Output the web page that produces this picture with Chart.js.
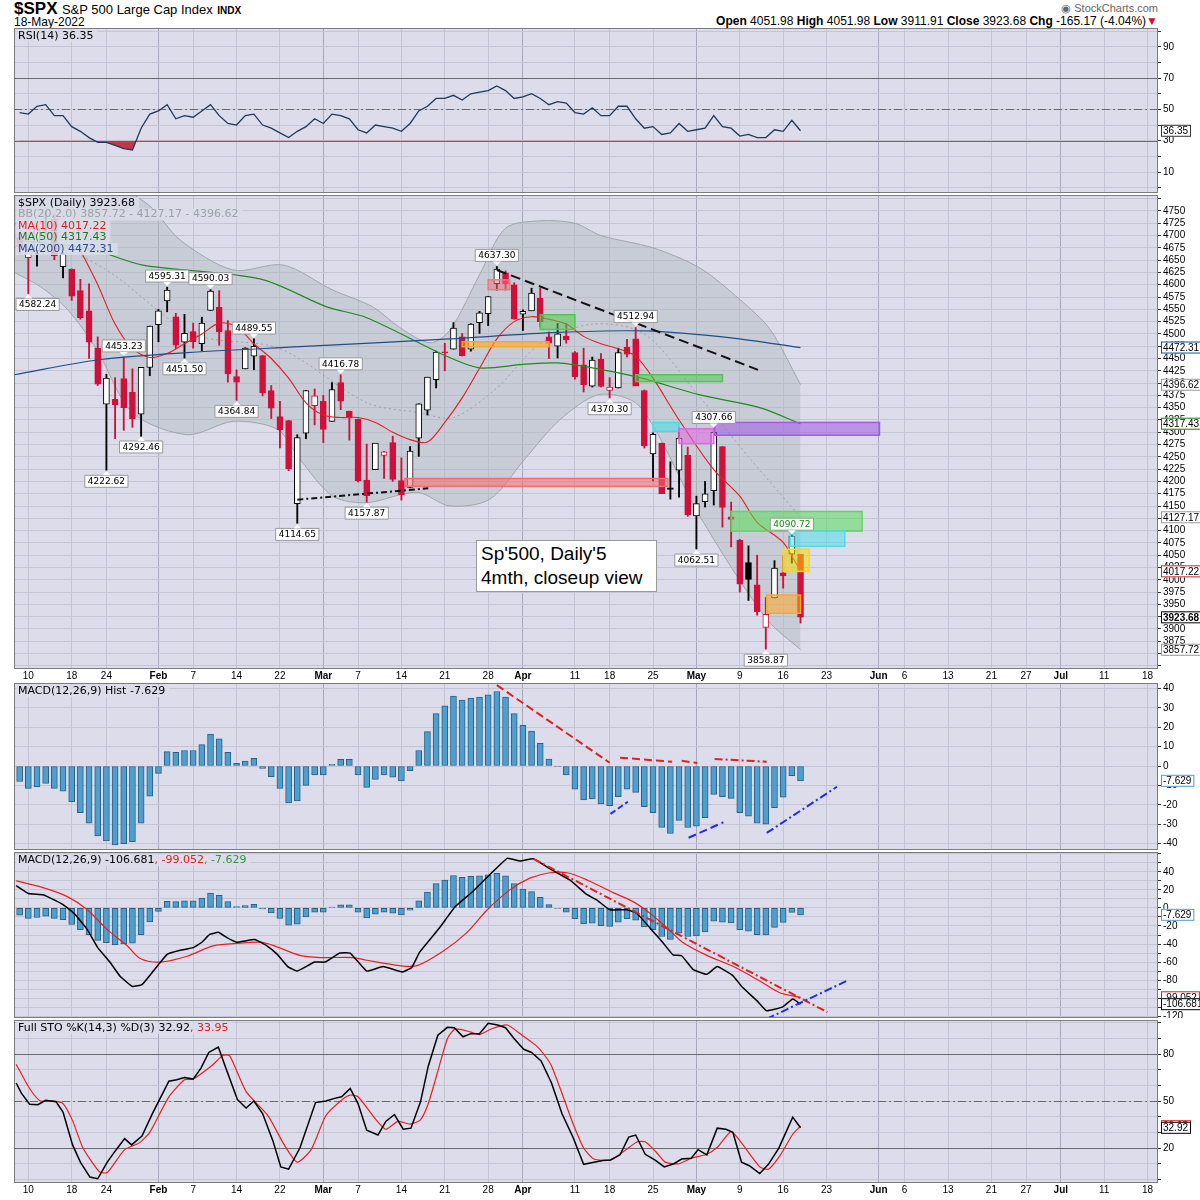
<!DOCTYPE html>
<html>
<head>
<meta charset="utf-8">
<script src="https://cdn.jsdelivr.net/npm/chart.js@4"></script>
<style>
  body { margin: 0; background: #fff; font-family: "Liberation Sans", Arial, sans-serif; }
  #wrap { position: relative; width: 1200px; height: 1200px; overflow: hidden; }
  canvas { position: absolute; left: 14px; }
  .hdr { position: absolute; white-space: nowrap; color: #000; }
  #note { position: absolute; left: 476px; top: 540px; width: 175px; height: 49px; background: #fff;
          border: 1px solid #999; font-size: 19px; line-height: 24px; padding: 1px 0 0 4px; box-sizing: content-box; }
</style>
</head>
<body>
<div id="wrap">
  <div class="hdr" style="left:14px;top:-1px;"><b style="font-size:17px;">$SPX</b> <span style="font-size:13px;">S&amp;P 500 Large Cap Index</span> <b style="font-size:10px;">INDX</b></div>
  <div class="hdr" style="left:14px;top:15px;font-size:12px;">18-May-2022</div>
  <div class="hdr" style="right:42px;top:2px;font-size:11px;color:#666;">&#9673; StockCharts.com</div>
  <div class="hdr" style="right:42px;top:14px;font-size:12px;"><b>Open</b> 4051.98 <b>High</b> 4051.98 <b>Low</b> 3911.91 <b>Close</b> 3923.68 <b>Chg</b> -165.17 (-4.04%)<span style="color:#d0103a;">&#9660;</span></div>
  <canvas id="rsi" width="1186" height="165" style="top:28px"></canvas>
  <canvas id="price" width="1186" height="488" style="top:195px"></canvas>
  <canvas id="hist" width="1186" height="167" style="top:683px"></canvas>
  <canvas id="macd" width="1186" height="166" style="top:852px"></canvas>
  <canvas id="sto" width="1186" height="177" style="top:1020px"></canvas>
  <div id="note">Sp'500, Daily'5<br>4mth, closeup view</div>
</div>
<script>
// ---- daily OHLC, 7-Jan-2022 .. 18-May-2022 ----
const opens = [4697,4655,4669,4728,4733,4637,4632,4588,4547,4471,4357,4367,4409,4381,4337,4432,4519,4567,4535,4483,
  4505,4480,4548,4554,4507,4413,4429,4455,4456,4385,4332,4324,4155,4298,4354,4363,4322,4401,4343,4327,
  4203,4224,4253,4279,4202,4188,4288,4345,4407,4462,4469,4494,4469,4523,4541,4602,4624,4600,4540,4547,
  4573,4494,4475,4495,4462,4437,4394,4449,4385,4390,4473,4490,4385,4256,4278,4187,4223,4253,4130,4159,
  4181,4271,4128,4081,4035,3990,3903,3963,4014,4052,4052];
const highs = [4707,4673,4714,4749,4744,4666,4632,4611,4602,4494,4418,4411,4453,4429,4432,4516,4550,4595,4542,4540,
  4522,4534,4590,4588,4527,4427,4472,4490,4456,4395,4363,4324,4295,4385,4388,4375,4401,4417,4343,4327,
  4276,4277,4261,4292,4248,4271,4358,4412,4465,4481,4523,4501,4521,4546,4576,4637,4628,4604,4549,4593,
  4593,4504,4521,4521,4464,4471,4453,4460,4411,4471,4489,4513,4386,4299,4278,4240,4309,4270,4170,4200,
  4308,4271,4158,4082,4069,4050,3964,4039,4049,4091,4052];
const lows = [4663,4582,4638,4703,4651,4614,4568,4530,4450,4395,4223,4287,4304,4310,4292,4415,4484,4545,4470,4451,
  4471,4466,4548,4477,4402,4365,4429,4427,4374,4328,4268,4222,4115,4287,4315,4279,4322,4346,4284,4199,
  4158,4224,4206,4200,4162,4187,4251,4335,4390,4425,4469,4455,4465,4501,4517,4589,4589,4530,4507,4547,
  4514,4450,4451,4481,4408,4382,4392,4392,4370,4390,4453,4395,4268,4201,4175,4164,4168,4129,4063,4148,
  4152,4107,4067,3975,3958,3928,3859,3963,3983,4034,3912];
const closes = [4677,4670,4713,4726,4659,4663,4577,4533,4483,4398,4410,4356,4350,4327,4432,4516,4547,4589,4477,4501,
  4484,4522,4587,4504,4419,4402,4471,4475,4380,4349,4305,4226,4289,4385,4374,4306,4387,4363,4329,4201,
  4171,4278,4260,4204,4173,4262,4358,4412,4463,4461,4512,4456,4520,4543,4576,4632,4602,4530,4546,4583,
  4525,4481,4500,4488,4413,4397,4447,4393,4392,4462,4459,4394,4272,4296,4175,4184,4288,4132,4155,4175,
  4300,4147,4123,3991,4001,3935,3930,4024,4008,4089,3924];
const prevClose0 = 4696;

// ---- overlays: [dayIndex, value] ----
const ma10 = [[7,4670],[9,4600],[11,4520],[13,4470],[15,4452],[17,4460],[19,4480],[21,4500],[23,4522],[25,4515],[27,4480],
  [29,4450],[31,4410],[33,4360],[35,4335],[37,4330],[39,4330],[41,4320],[43,4300],[45,4285],[47,4280],[49,4320],[51,4370],
  [53,4430],[55,4490],[57,4525],[59,4535],[61,4530],[63,4520],[65,4495],[67,4480],[69,4470],[71,4455],[73,4410],[76,4325],
  [80,4224],[83,4170],[85,4117],[88,4076],[90,4017]];
const ma50 = [[0,4690],[8.1,4673],[14.2,4640],[27.7,4612],[35.4,4555],[40,4533],[49.3,4454],[53,4431],[58,4438],[62,4441],
  [66.9,4428],[71.5,4411],[78.4,4376],[85.3,4350],[90,4317]];
const ma200 = [[-0.6,4417],[9.3,4448],[19.3,4462],[32.3,4474],[49.6,4490],[62,4503],[72,4506],[82,4492],[90,4472]];
const bbUpper = [[-0.6,4830],[10,4810],[15,4760],[18.5,4691],[24.6,4630],[30.4,4640],[36,4590],[40.7,4555],[43.8,4513],
  [47.3,4482],[49.6,4508],[53,4620],[56,4715],[60,4730],[64,4725],[67,4700],[73,4675],[78.4,4634],[83,4570],[86.5,4509],[90,4397]];
const bbLower = [[-0.6,4625],[2.4,4596],[5.5,4550],[8.9,4468],[13,4340],[19.3,4295],[24.6,4322],[29.7,4306],[32.3,4245],
  [36.1,4170],[40,4157],[45.8,4178],[49.6,4150],[54.2,4164],[58.2,4245],[62.3,4326],[66.9,4377],[71.5,4352],[78.4,4129],[86.1,3920],[90,3858]];
const bbMid = [[-0.6,4725],[10,4630],[20,4500],[30,4470],[40,4360],[46,4340],[50,4330],[55,4390],[60,4480],[66,4520],
  [72,4500],[78,4380],[84,4250],[90,4127]];

const rsi = [48,47,52,53,46,46,39,36,32,29,29,27,25,24,38,47,49,53,44,46,45,49,53,46,41,40,46,47,40,38,35,32,36,39,44,41,
  47,46,44,37,35,40,39,38,36,41,49,52,57,57,59,56,60,61,62,65,62,57,58,60,57,53,55,54,48,47,51,46,46,52,52,44,38,39,34,
  35,41,36,37,38,46,39,38,33,34,32,32,37,36,43,36.35];
const macdHist = [-8,-11.5,-10.6,-9,-11.5,-13,-18.4,-24,-29.5,-36,-38.6,-40.7,-40,-39,-29.5,-15.5,-3.8,7.4,7,8,8,11,16.5,
  14,7,1.4,2.6,4,-1.2,-5.5,-11.5,-19,-18,-10,-4.6,-4.6,0.9,3.4,3.4,-4.6,-11,-6.9,-4.6,-5.8,-7.7,-2.4,8,17.7,27,31,36,34,
  35,35.5,36.7,38.4,35.5,27,21,18,11.7,3.6,-0.3,-4.6,-12,-17.5,-17,-19.6,-20.5,-15.8,-12,-13.6,-21,-24,-31.7,-34.8,-28,
  -31.7,-31,-26.6,-14.6,-15.8,-16.7,-24,-25.8,-29.5,-30,-21.5,-16,-5,-7.63];
const macdLine = [[-0.4,24.6],[1,16],[2.7,14.7],[4.1,8.4],[5,3.6],[6.4,-7.4],[7.8,-24],[9,-44],[10.4,-60],[11.6,-76],[13,-87],
  [14.1,-85],[15.4,-70],[17,-51.5],[18.5,-47],[20,-44],[21,-38],[21.9,-29.4],[22.9,-27],[23.9,-33],[25,-38],[27.1,-35],
  [28.5,-42],[29.7,-51.5],[30.9,-65],[32,-70],[34,-60],[35.2,-60],[36.9,-50],[38.1,-50],[40,-70],[41.9,-65],[44.1,-71],
  [45.2,-66],[46.1,-49],[48.4,-22],[50.2,1.5],[52.2,18],[54.2,37],[56.2,55],[57.7,52],[59.2,54.5],[61.1,43.5],[63.4,31],
  [65.4,14.7],[66.5,9],[68,-2],[70,-2],[71.1,-5.6],[73,-26],[74.1,-38],[75.3,-52],[76.3,-53],[77.6,-68],[79.2,-73.6],
  [80.4,-65],[82.2,-75],[83.3,-88],[85,-103],[86.1,-114],[87.9,-110],[89.1,-101],[90,-106.68]];
const macdSignal = [[-0.4,30],[2.7,22.5],[5.5,12.5],[7.8,-2],[10.1,-24],[12.4,-42],[13.9,-56],[16.2,-60],[19.3,-53.6],
  [22.3,-42],[25.4,-39],[27.7,-38],[29.2,-41.5],[32.3,-52.6],[34.6,-55],[38.4,-55],[40,-58],[43.8,-64],[45.8,-64],[48.8,-48],
  [51.5,-27.6],[53.9,-2],[56.5,20],[58.8,33],[61.1,39],[63.1,39],[65.4,31],[68.4,17],[70.7,7],[72.6,-5.6],[74.6,-22],
  [76.4,-38],[79.2,-52.6],[82.2,-64.7],[85.3,-81],[87.6,-94],[90,-99.05]];
const stoK = [[-0.4,61.5],[0.2,55],[1.15,48],[2.1,47.7],[3,50.5],[4.2,49.5],[5,43],[6.1,22],[7,11],[8.1,1.5],[9,0.4],[10.1,11],
  [11,18],[12.1,26],[12.9,22],[14.1,27.7],[15.3,42],[17.2,62.6],[18.1,63.6],[19,65],[20,64],[20.9,71],[21.8,81],[22.9,84.4],
  [23.7,72],[25.1,51],[26.1,45.5],[27,50],[28,42],[29.2,24.4],[30.1,8],[31,6.5],[32.3,20],[34.1,49],[35.3,50],[36.3,51.7],
  [37.1,52.7],[38.1,58],[39,48.4],[40,31.4],[41.3,28.3],[42.2,37],[43.2,41.4],[44.2,32],[45.1,32.7],[46.2,49.5],[47.1,72.4],
  [48.2,92],[49.3,97],[50.1,96.8],[51.1,91],[52,93],[53,92.9],[54,99.6],[55.1,98.5],[56,96.8],[57,89.8],[58.1,83],[59,81],
  [60.1,75.6],[61.3,61.5],[62.5,42],[63.8,26.6],[65,9.6],[66.2,11],[67.2,12],[68.1,12.4],[69.2,15.7],[70.2,27],[71,28.3],
  [72.1,16],[73.2,12.4],[74.3,8],[75.4,10],[76.3,13],[77.4,13.5],[78.2,19],[79.2,15.7],[80.4,32.7],[81.4,32],[82.2,30],
  [83.2,11],[84.1,8.7],[85.3,3.7],[86.3,9.6],[87.5,20],[89.1,39.7],[90,32.92]];
const stoD = [[-0.4,73.5],[1.15,58],[2.4,50],[4,50],[5,48.4],[6.1,37.5],[7.3,20],[9.2,4.8],[10.1,4.4],[12.1,19],[13.8,23.3],
  [15,30],[17.2,52.7],[19,63.6],[20,64],[22.2,72.8],[23.4,79],[24.2,79],[26.1,56],[28.6,40.8],[30.5,22],[32,11],[33.6,19],
  [35.3,40.8],[37.2,51],[38.1,53.8],[39,52.7],[41,38.6],[42.2,32],[43.6,37],[45,35.3],[46.2,38],[47.1,48.4],[48.2,69],
  [49.3,89.8],[50.2,96],[52,94],[53,92.4],[54.5,96.3],[56.2,98.5],[57.9,92],[59.5,85.5],[60.4,80],[61.3,72.4],[62.5,55],
  [63.8,35.3],[65,20],[66.2,13],[68.1,12.4],[69.6,17.8],[71.2,24],[72.1,24],[73.3,17.8],[74.4,11],[76,10],[77.4,13.5],
  [79.2,16],[80.5,21],[82,30.5],[83.2,23.3],[85.3,8],[86.3,6.5],[87.7,15.7],[89.1,28.8],[90,33.95]];

// ---- drawn notes on the chart ----
const priceBoxes = [ // [i0, i1, lo, hi, colour]
  [44.4,74.7,4190,4206,'240,110,110'], [51,61,4474,4484,'255,165,40'], [54,56.5,4590,4610,'240,120,130'],
  [60,64,4509,4539,'80,200,80'], [71,81,4403,4417,'80,200,80'], [73,76,4302,4320,'70,220,230'],
  [76,80,4277,4307,'230,100,230'], [80.1,99.1,4294,4320,'160,90,230'], [82,97.1,4099,4139,'90,220,90'],
  [88.8,95.1,4068,4099,'80,220,235'], [88,91,4017,4062,'250,220,0'], [86.1,90,3932,3969,'255,165,40']];
const priceTags = [ // [index, value, text, above]
  [1,4582.24,'4582.24',false],[10,4222.62,'4222.62',false],[14,4292.46,'4292.46',false],[12,4453.23,'4453.23',true],
  [17,4595.31,'4595.31',true],[22,4590.03,'4590.03',true],[19,4451.5,'4451.50',false],[27,4489.55,'4489.55',true],
  [25,4364.84,'4364.84',false],[32,4114.65,'4114.65',false],[40,4157.87,'4157.87',false],[37,4416.78,'4416.78',true],
  [55,4637.3,'4637.30',true],[71,4512.94,'4512.94',true],[68,4370.3,'4370.30',false],[80,4307.66,'4307.66',true],
  [78,4062.51,'4062.51',false],[89,4090.72,'4090.72',true],[86,3858.87,'3858.87',false]];

// ---- trading days & ticks ----
const holidays = ['2022-01-17','2022-02-21','2022-04-15','2022-05-30','2022-06-20','2022-07-04'];
const monthNames = ['Jan','Feb','Mar','Apr','May','Jun','Jul','Aug'];
const days = [];
for (let d = new Date(Date.UTC(2022,0,7)); days.length < 133; d.setUTCDate(d.getUTCDate()+1)) {
  const wd = d.getUTCDay(), iso = d.toISOString().slice(0,10);
  if (wd === 0 || wd === 6 || holidays.includes(iso)) continue;
  days.push(new Date(d));
}
const tickText = {}, monthTick = {};
days.forEach((d, i) => {
  if (i > 0 && d.getUTCMonth() !== days[i-1].getUTCMonth()) { tickText[i] = monthNames[d.getUTCMonth()]; monthTick[i] = true; }
});
days.forEach((d, i) => {
  if (i === 0 || tickText[i]) return;
  if (d.getUTCDay() <= days[i-1].getUTCDay()) {
    const near = Object.keys(monthTick).some(m => Math.abs(m - i) <= 2);
    if (!near) tickText[i] = String(d.getUTCDate());
  }
});
const tickIdx = Object.keys(tickText).map(Number).sort((a,b) => a-b);

const BG = '#dcdcea';
const pts = arr => arr.map(([x, y]) => ({x, y}));
const noPad = s => { s.paddingLeft = 0; s.paddingRight = 0; s.paddingTop = 0; s.paddingBottom = 0; };

function xAxis(show) {
  return {
    type: 'linear', min: -0.65, max: 131.2, offset: false,
    afterBuildTicks: s => { s.ticks = tickIdx.map(v => ({value: v})); },
    afterFit: s => { s.height = show ? 14 : 0; noPad(s); },
    ticks: { display: show, autoSkip: false, maxRotation: 0, padding: 1, color: '#000',
             callback: v => tickText[v] || '',
             font: c => ({family: 'Liberation Sans', size: 10, weight: monthTick[c.tick && c.tick.value] ? 'bold' : 'normal'}) },
    grid: { offset: false, drawTicks: false, color: c => monthTick[c.tick && c.tick.value] ? '#a8a8bc' : '#c4c4d4' },
    border: { display: false }
  };
}
function yAxis(min, max, values, step) {
  return {
    type: 'linear', position: 'right', min, max,
    afterBuildTicks: s => {
      const t = [];
      for (let v = Math.ceil(min / step) * step; v <= max; v += step) t.push({value: +v.toFixed(4)});
      s.ticks = t;
    },
    afterFit: s => { s.width = 42; noPad(s); },
    ticks: { color: '#000', padding: 2, autoSkip: false, font: {family: 'Liberation Sans', size: 10},
             callback: v => values.includes(v) ? String(v) : '' },
    grid: { color: '#c4c4d4', tickLength: 3, tickColor: '#333' },
    border: { display: false }
  };
}

function deco(spec) {
  return {
    id: 'deco',
    beforeDraw(chart) {
      const {ctx, chartArea: a} = chart;
      ctx.save(); ctx.fillStyle = BG; ctx.fillRect(a.left, a.top, a.right - a.left, a.bottom - a.top); ctx.restore();
    },
    beforeDatasetsDraw(chart) {
      const {ctx, chartArea: a, scales: {y}} = chart;
      ctx.save();
      (spec.refs || []).forEach(([v, dash]) => {
        ctx.strokeStyle = '#6a6a6a'; ctx.lineWidth = 1.2; ctx.setLineDash(dash ? [8,3,2,3] : []);
        const py = Math.round(y.getPixelForValue(v)) + 0.5;
        ctx.beginPath(); ctx.moveTo(a.left, py); ctx.lineTo(a.right, py); ctx.stroke();
      });
      ctx.restore();
    },
    afterDatasetsDraw(chart) {
      const {ctx, chartArea: a, scales: {x, y}} = chart;
      ctx.save();
      ctx.beginPath(); ctx.rect(a.left, a.top, a.right - a.left, a.bottom - a.top); ctx.clip();
      (spec.boxes || []).forEach(([i0, i1, lo, hi, c]) => {
        const x0 = x.getPixelForValue(i0), x1 = x.getPixelForValue(i1), y0 = y.getPixelForValue(hi), y1 = y.getPixelForValue(lo);
        ctx.fillStyle = `rgba(${c},0.55)`; ctx.fillRect(x0, y0, x1 - x0, y1 - y0);
        ctx.strokeStyle = `rgb(${c})`; ctx.lineWidth = 1.5; ctx.strokeRect(x0, y0, x1 - x0, y1 - y0);
      });
      (spec.lines || []).forEach(([i0, v0, i1, v1, col, dash, w]) => {
        ctx.strokeStyle = col; ctx.lineWidth = w || 2; ctx.setLineDash(dash);
        ctx.beginPath(); ctx.moveTo(x.getPixelForValue(i0), y.getPixelForValue(v0));
        ctx.lineTo(x.getPixelForValue(i1), y.getPixelForValue(v1)); ctx.stroke();
      });
      ctx.setLineDash([]);
      ctx.font = '9px "DejaVu Sans"'; ctx.textBaseline = 'middle'; ctx.textAlign = 'center';
      (spec.tags || []).forEach(([i, v, t, above]) => {
        const px = x.getPixelForValue(i), py = y.getPixelForValue(v);
        const w = ctx.measureText(t).width + 6, h = 12;
        const bx = Math.max(a.left + 2, px - w / 2);
        const by = above ? py - 5 - h : py + 5;
        ctx.fillStyle = 'rgba(255,255,255,0.92)'; ctx.strokeStyle = '#9a9a9a'; ctx.lineWidth = 1;
        ctx.beginPath(); ctx.rect(bx, by, w, h); ctx.fill(); ctx.stroke();
        ctx.beginPath();
        if (above) { ctx.moveTo(px - 4, by + h); ctx.lineTo(px, py - 1); ctx.lineTo(px + 4, by + h); }
        else { ctx.moveTo(px - 4, by); ctx.lineTo(px, py + 1); ctx.lineTo(px + 4, by); }
        ctx.fill();
        ctx.fillStyle = i === 89 ? '#1a8a1a' : '#000'; ctx.fillText(t, bx + w / 2, by + h / 2 + 0.5);
      });
      ctx.restore();
    },
    afterDraw(chart) {
      const {ctx, chartArea: a, scales: {y}} = chart;
      ctx.save();
      ctx.strokeStyle = '#7c7c7c'; ctx.lineWidth = 1;
      ctx.strokeRect(a.left + 0.5, a.top + 0.5, a.right - a.left - 1, a.bottom - a.top - 1);
      ctx.font = '11px "DejaVu Sans"'; ctx.textBaseline = 'middle'; ctx.textAlign = 'left';
      (spec.legend || []).forEach((parts, n) => {
        let px = a.left + 4; const py = a.top + 8 + n * 11.5;
        const total = parts.reduce((s, [t]) => s + ctx.measureText(t).width, 0);
        ctx.fillStyle = 'rgba(220,220,234,0.85)'; ctx.fillRect(px - 2, py - 6, total + 6, 12);
        parts.forEach(([t, c]) => { ctx.fillStyle = c; ctx.fillText(t, px, py); px += ctx.measureText(t).width; });
      });
      (spec.values || []).forEach(([v, t, c, bold]) => {
        const py = y.getPixelForValue(v), px = a.right + 3;
        ctx.font = (bold ? 'bold ' : '') + '10px "Liberation Sans"';
        const w = ctx.measureText(t).width + 4;
        ctx.fillStyle = '#fff'; ctx.fillRect(px, py - 6, w, 12);
        ctx.strokeStyle = c; ctx.strokeRect(px + 0.5, py - 5.5, w, 11);
        ctx.fillStyle = '#000'; ctx.fillText(t, px + 2, py + 0.5);
      });
      ctx.restore();
    }
  };
}

function lineDs(data, color, width, extra) {
  return Object.assign({type: 'line', data: pts(data), borderColor: color, borderWidth: width, pointRadius: 0, tension: 0.3, fill: false}, extra || {});
}
function makeChart(id, datasets, scales, spec) {
  return new Chart(document.getElementById(id), {
    type: 'bar',
    data: {datasets},
    options: {
      responsive: false, animation: false, events: [],
      layout: {padding: 0},
      plugins: {legend: {display: false}, tooltip: {enabled: false}},
      scales
    },
    plugins: [deco(spec)]
  });
}

// ---- RSI ----
makeChart('rsi', [
  lineDs(rsi.map((v, i) => [i, v]), '#1f3a5a', 1.3, {tension: 0, fill: {target: {value: 30}, above: 'rgba(0,0,0,0)', below: '#c0394a'}})
], {x: xAxis(false), y: yAxis(-3.4, 102, [10, 30, 50, 70, 90], 10)}, {
  refs: [[70], [30], [50, true]],
  legend: [[['RSI(14) 36.35', '#000']]],
  values: [[36.35, '36.35', '#333']]
});

// ---- price ----
const upDay = closes.map((c, i) => c >= (i ? closes[i-1] : prevClose0));
const candleCol = upDay.map(u => u ? '#000' : '#d0103a');
const candleFill = closes.map((c, i) => c > opens[i] ? '#ffffff' : candleCol[i]);
makeChart('price', [
  lineDs(bbUpper, '#a0a8a8', 1, {order: 20}),
  lineDs(bbLower, '#a0a8a8', 1, {order: 20, fill: '-1', backgroundColor: 'rgba(175,185,190,0.45)'}),
  lineDs(bbMid, '#a0a0a8', 1, {order: 19, borderDash: [2, 3]}),
  {type: 'bar', order: 5, grouped: false, barThickness: 1.2, data: lows.map((l, i) => ({x: i, y: [l, highs[i]]})),
   backgroundColor: candleCol, borderWidth: 0},
  {type: 'bar', order: 4, grouped: false, barThickness: 6,
   data: opens.map((o, i) => ({x: i, y: [o, Math.abs(o - closes[i]) < 1.5 ? o + 1.5 : closes[i]]})),
   backgroundColor: candleFill, borderColor: candleCol, borderWidth: 1, borderSkipped: false},
  lineDs(ma200, '#1e4f8a', 1.2, {order: 1}),
  lineDs(ma50, '#1f8a1f', 1.2, {order: 1}),
  lineDs(ma10, '#e02020', 1.1, {order: 1})
], {x: xAxis(true), y: yAxis(3818.6, 4782.5, Array.from({length: 37}, (_, k) => 3850 + 25 * k), 25)}, {
  boxes: priceBoxes,
  tags: priceTags,
  lines: [[55, 4630, 85.1, 4427, '#111', [10, 5], 2], [32, 4163, 47.1, 4186, '#111', [6, 3, 2, 3], 2]],
  legend: [[['$SPX (Daily) 3923.68', '#000']], [['BB(20,2.0) 3857.72 - 4127.17 - 4396.62', '#9aa4a4']],
           [['MA(10) 4017.22', '#e02020']], [['MA(50) 4317.43', '#1f7a1f']], [['MA(200) 4472.31', '#1e4f8a']]],
  values: [[4472.31, '4472.31', '#1e4f8a'], [4396.62, '4396.62', '#999'], [4317.43, '4317.43', '#1f7a1f'],
           [4127.17, '4127.17', '#999'], [4017.22, '4017.22', '#e02020'], [3923.68, '3923.68', '#000', true],
           [3857.72, '3857.72', '#999']]
});

// ---- MACD histogram ----
const histDs = () => ({type: 'bar', grouped: false, barThickness: 6, data: macdHist.map((v, i) => ({x: i, y: v})),
  backgroundColor: '#4d9fd0', borderColor: '#2b5f84', borderWidth: 1, borderSkipped: false, order: 5});
makeChart('hist', [histDs()], {x: xAxis(false), y: yAxis(-43.3, 42.8, [-40, -30, -20, -10, 0, 10, 20, 30, 40], 10)}, {
  lines: [[55, 41.7, 68, 1.7, '#e02020', [8, 4], 2], [69.2, 4.3, 75.2, 2.2, '#e02020', [8, 4], 2],
          [76.3, 2.7, 78.1, 1.5, '#e02020', [8, 4], 2], [80.1, 3.6, 86.1, 2.2, '#e02020', [8, 3, 2, 3], 2],
          [68.1, -24.7, 70.1, -18.4, '#2030e0', [6, 3], 2], [77.1, -37, 81.1, -29, '#2030e0', [8, 4], 2],
          [86.1, -34.5, 94.2, -10.7, '#2030e0', [8, 3, 2, 3], 2]],
  legend: [[['MACD(12,26,9) Hist -7.629', '#000']]],
  values: [[-7.629, '-7.629', '#4d9fd0']]
});

// ---- MACD ----
makeChart('macd', [
  histDs(),
  lineDs(macdSignal, '#e82020', 1.2, {order: 2}),
  lineDs(macdLine, '#000', 1.5, {order: 1, tension: 0.1})
], {x: xAxis(false), y: yAxis(-122, 62, [-120, -100, -80, -60, -40, -20, 0, 20, 40], 10)}, {
  lines: [[59.2, 54.5, 93.1, -115.6, '#e02020', [8, 3, 2, 3], 2], [86.1, -123, 95.3, -81, '#2030e0', [8, 3, 2, 3], 2]],
  legend: [[['MACD(12,26,9) -106.681', '#000'], [', -99.052', '#e02020'], [', -7.629', '#2a9a3a']]],
  values: [[-7.629, '-7.629', '#4d9fd0'], [-99.052, '-99.052', '#e02020'], [-106.681, '-106.681', '#000']]
});

// ---- Full stochastics ----
makeChart('sto', [
  lineDs(stoD, '#e82020', 1.2, {order: 2, tension: 0.2}),
  lineDs(stoK, '#000', 1.5, {order: 1, tension: 0})
], {x: xAxis(true), y: yAxis(-2.3, 101.7, [20, 50, 80], 10)}, {
  refs: [[80], [20], [50, true]],
  legend: [[['Full STO %K(14,3) %D(3) 32.92', '#000'], [', 33.95', '#e02020']]],
  values: [[33.95, '33.95', '#e02020'], [32.92, '32.92', '#000']]
});
</script>
</body>
</html>
